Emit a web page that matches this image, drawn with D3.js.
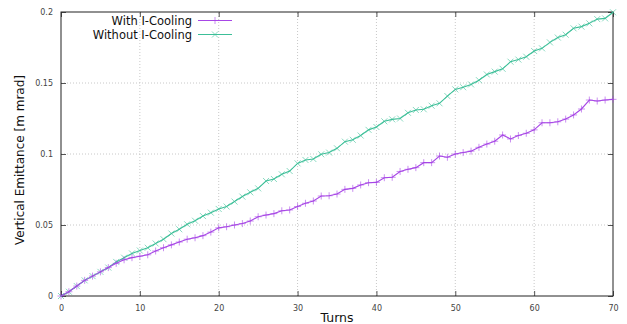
<!DOCTYPE html>
<html>
<head>
<meta charset="utf-8">
<script src="https://cdn.jsdelivr.net/npm/d3@7"></script>
<style>
  body { margin: 0; background: #fff; }
  svg { display: block; font-family: "DejaVu Sans", sans-serif; }
</style>
</head>
<body>
<div id="chart"></div>
<script>
const turns = d3.range(0, 71);
const withCooling = [
  0, 0.003, 0.007, 0.011, 0.014, 0.017, 0.020, 0.023, 0.0255, 0.027,
  0.028, 0.029, 0.0317, 0.034, 0.036, 0.038, 0.040, 0.041, 0.0425, 0.045,
  0.048, 0.0488, 0.050, 0.051, 0.0528, 0.0558, 0.057, 0.058, 0.060, 0.0606,
  0.063, 0.0653, 0.0669, 0.0704, 0.0706, 0.0718, 0.0751, 0.0758, 0.0782, 0.0798,
  0.080, 0.0833, 0.0836, 0.0877, 0.0892, 0.0904, 0.0939, 0.0939, 0.0986, 0.0977,
  0.100, 0.101, 0.102, 0.1047, 0.107, 0.109, 0.1134, 0.1106, 0.113, 0.1146,
  0.117, 0.122, 0.122, 0.1227, 0.1246, 0.1275, 0.1317, 0.138, 0.1373, 0.138,
  0.1385
];
const withoutCooling = [
  0, 0.003, 0.007, 0.011, 0.014, 0.017, 0.020, 0.024, 0.027, 0.030,
  0.032, 0.034, 0.037, 0.040, 0.044, 0.047, 0.0505, 0.053, 0.0563, 0.0587,
  0.0613, 0.063, 0.0665, 0.070, 0.073, 0.0758, 0.081, 0.0824, 0.0857, 0.088,
  0.0934, 0.0958, 0.0965, 0.0998, 0.101, 0.104, 0.1087, 0.110, 0.113, 0.117,
  0.119, 0.123, 0.1244, 0.125, 0.129, 0.131, 0.1315, 0.134, 0.1357, 0.1408,
  0.1455, 0.147, 0.149, 0.152, 0.156, 0.158, 0.160, 0.165, 0.1665, 0.1685,
  0.1725, 0.1744, 0.1786, 0.182, 0.184, 0.1885, 0.1897, 0.192, 0.195, 0.1955,
  0.1998
];
const xTicks = [0, 10, 20, 30, 40, 50, 60, 70];
const yTicks = [0, 0.05, 0.1, 0.15, 0.2];
const seriesNames = ["With I-Cooling", "Without I-Cooling"];

const width = 627, height = 324;
const margin = {top: 12, right: 14, bottom: 28, left: 61};

const svg = d3.select("#chart").append("svg")
  .attr("width", width)
  .attr("height", height);

const x = d3.scaleLinear().domain([0, 70]).range([margin.left, width - margin.right]);
const y = d3.scaleLinear().domain([0, 0.2]).range([height - margin.bottom, margin.top]);

// grid
svg.append("g").selectAll("line.gx")
  .data(xTicks.slice(1, -1)).enter().append("line")
  .attr("x1", d => x(d)).attr("x2", d => x(d))
  .attr("y1", y(0)).attr("y2", y(0.2))
  .attr("stroke", "#c8c8c8").attr("stroke-dasharray", "1,2");
svg.append("g").selectAll("line.gy")
  .data(yTicks.slice(1, -1)).enter().append("line")
  .attr("x1", x(0)).attr("x2", x(70))
  .attr("y1", d => y(d)).attr("y2", d => y(d))
  .attr("stroke", "#c8c8c8").attr("stroke-dasharray", "1,2");

// axes with inward ticks, mirrored
const fmtY = d => d === 0 ? "0" : String(+d.toFixed(2));
const styleAxis = g => {
  g.select(".domain").remove();
  g.selectAll(".tick line").attr("stroke", "#555");
  g.selectAll(".tick text").attr("fill", "#444").attr("font-size", 8)
    .attr("font-family", "DejaVu Sans, sans-serif");
};
svg.append("g")
  .attr("transform", `translate(0,${y(0)})`)
  .call(d3.axisBottom(x).tickValues(xTicks).tickSizeInner(-5).tickPadding(9))
  .call(styleAxis);
svg.append("g")
  .attr("transform", `translate(0,${y(0.2)})`)
  .call(d3.axisTop(x).tickValues(xTicks).tickSizeInner(-5).tickFormat(""))
  .call(styleAxis);
svg.append("g")
  .attr("transform", `translate(${x(0)},0)`)
  .call(d3.axisLeft(y).tickValues(yTicks).tickFormat(fmtY).tickSizeInner(-5).tickPadding(8))
  .call(styleAxis);
svg.append("g")
  .attr("transform", `translate(${x(70)},0)`)
  .call(d3.axisRight(y).tickValues(yTicks).tickSizeInner(-5).tickFormat(""))
  .call(styleAxis);

// frame
svg.append("rect")
  .attr("x", x(0)).attr("y", y(0.2))
  .attr("width", x(70) - x(0)).attr("height", y(0) - y(0.2))
  .attr("fill", "none").attr("stroke", "#222").attr("stroke-width", 1);

// series
const colors = ["#a746e6", "#3cbf98"];
const plus = "M-3.5,0H3.5M0,-3.5V3.5";
const cross = "M-3,-3L3,3M-3,3L3,-3";
const line = d3.line().x(d => x(d[0])).y(d => y(d[1]));

[withoutCooling, withCooling].forEach((vals, k) => {
  const idx = k === 0 ? 1 : 0;
  const pts = turns.map((t, i) => [t, vals[i]]);
  svg.append("path").datum(pts)
    .attr("fill", "none").attr("stroke", colors[idx]).attr("stroke-width", 1.1)
    .attr("d", line);
  svg.append("g").selectAll("path")
    .data(pts).enter().append("path")
    .attr("transform", d => `translate(${x(d[0])},${y(d[1])})`)
    .attr("d", idx === 0 ? plus : cross)
    .attr("stroke", colors[idx]).attr("stroke-opacity", 0.6).attr("fill", "none");
});

// legend
const legend = svg.append("g");
seriesNames.forEach((name, i) => {
  const ly = 20.5 + i * 14;
  legend.append("text")
    .attr("x", 192).attr("y", ly).attr("dy", "0.35em")
    .attr("text-anchor", "end").attr("font-size", 11.5).attr("fill", "#111")
    .text(name);
  legend.append("line")
    .attr("x1", 198).attr("x2", 232).attr("y1", ly).attr("y2", ly)
    .attr("stroke", colors[i]).attr("stroke-width", 1.1);
  legend.append("path")
    .attr("transform", `translate(215,${ly})`)
    .attr("d", i === 0 ? plus : cross)
    .attr("stroke", colors[i]).attr("stroke-opacity", 0.6).attr("fill", "none");
});

// axis titles
svg.append("text")
  .attr("x", (x(0) + x(70)) / 2).attr("y", 322)
  .attr("text-anchor", "middle").attr("font-size", 12.5).attr("fill", "#111")
  .text("Turns");
svg.append("text")
  .attr("transform", `translate(24,${(y(0) + y(0.2)) / 2 + 6}) rotate(-90)`)
  .attr("text-anchor", "middle").attr("font-size", 12).attr("fill", "#111")
  .text("Vertical Emittance [m mrad]");
</script>
</body>
</html>
